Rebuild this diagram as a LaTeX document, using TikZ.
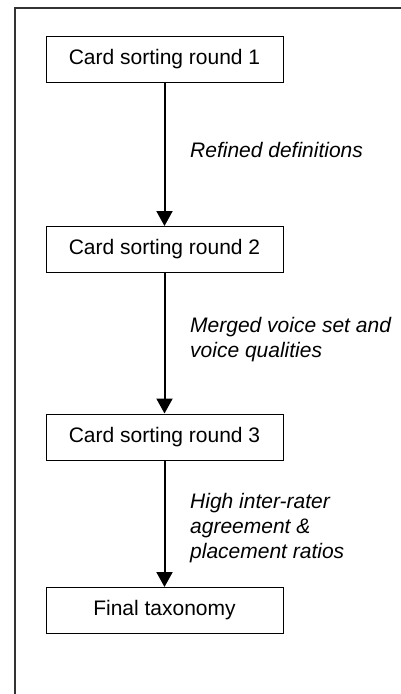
\documentclass[tikz,border=0pt]{standalone}
\usepackage{fontspec}
\setmainfont{Liberation Sans}
\usetikzlibrary{arrows.meta}
\begin{document}
\begin{tikzpicture}[x=1pt,y=-1pt,
  stagebox/.style={draw=black, line width=1pt, minimum width=237pt, minimum height=46pt, inner sep=0pt,
    font=\fontsize{21}{25}\selectfont},
  lbl/.style={anchor=north west, inner sep=0pt, align=left, font=\fontsize{21}{25}\selectfont\itshape},
  flow/.style={line width=2pt, -{Triangle[width=16pt,length=15pt]}}]
\useasboundingbox (0,0) rectangle (401,694);
\draw[line width=1.5pt, black!80] (15,694) -- (15,8) -- (401,8);
\node[stagebox] (b1) at (164.5,59) {Card sorting round 1};
\node[stagebox] (b2) at (164.5,249.5) {Card sorting round 2};
\node[stagebox] (b3) at (164.5,437) {Card sorting round 3};
\node[stagebox] (b4) at (164.5,610.5) {Final taxonomy};
\draw[flow] (b1) -- (b2);
\draw[flow] (b2) -- (b3);
\draw[flow] (b3) -- (b4);
\node[lbl] (l1) at (190,142) {Refined definitions};
\node[lbl] (l2) at (190,317) {Merged voice set and\\voice qualities};
\node[lbl] (l3) at (190,493) {High inter-rater\\agreement \&\\placement ratios};
\end{tikzpicture}
\end{document}
